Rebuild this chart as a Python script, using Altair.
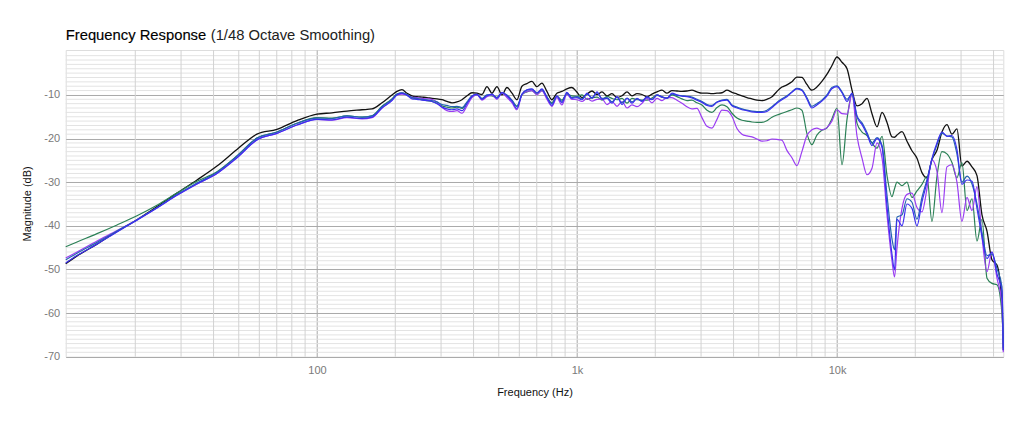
import altair as alt
import pandas as pd

# ---------------- data ----------------
freq_hz = [
    10.8, 11.94, 14.25, 17.01, 20.3, 24.23, 28.92, 34.54, 41.23, 49.21,
    58.73, 70.1, 83.66, 100, 114.2, 130.4, 149.0, 162.7, 177.8, 194.2,
    203.0, 212.2, 221.8, 231.8, 242.3, 253.3, 264.7, 276.7, 289.2, 302.3,
    316.0, 330.5, 345.4, 361.0, 377.4, 394.4, 412.3, 430.9, 450.4, 470.8,
    492.1, 514.3, 537.6, 562.3, 587.3, 613.9, 641.6, 670.7, 701.0, 732.7,
    765.8, 800.4, 836.6, 874.5, 914.0, 955.3, 1000,
    1045, 1093, 1142, 1194, 1248, 1304, 1363, 1425, 1490, 1557,
    1627, 1701, 1778, 1858, 1942, 2030, 2122, 2218, 2318, 2423,
    2533, 2647, 2767, 2892, 3023, 3162, 3305, 3454, 3610, 3774,
    3944, 4123, 4309, 4504, 4708, 4921, 5143, 5376, 5623, 5873,
    6139, 6416, 6707, 7010, 7327, 7658, 8004, 8366, 8745, 9140,
    9553, 10000,
    10450, 10930, 11420, 11940, 12480, 13040, 13630, 14250, 14900, 15570,
    16270, 16640, 17010, 17780, 18580, 19420, 20300, 21220, 22180, 23180,
    24230, 25330, 26470, 27670, 28920, 30230, 31620, 33050, 34540, 36100,
    37740, 39440, 41230, 43090, 43600,
]

black_db = [
    -48.7, -46.9, -44.2, -41.3, -38.6, -35.6, -32.5, -29.5, -26.3, -22.5,
    -19.0, -17.9, -15.9, -14.4, -14.1, -13.7, -13.4, -13.2, -11.8, -10.0,
    -9.2, -8.8, -9.6, -10.2, -10.4, -10.5, -10.6, -10.8, -10.9, -11.1,
    -11.5, -11.8, -11.6, -11.1, -10.2, -9.5, -9.6, -9.9, -8.1, -9.6,
    -8.1, -10.0, -8.3, -9.6, -11.1, -8.0, -7.4, -6.9, -8.1, -7.3,
    -9.2, -11.1, -9.6, -9.2, -8.6, -8.3, -9.4,
    -10.6, -9.8, -9.1, -9.9, -9.3, -10.2, -9.7, -10.6, -10.2, -9.3,
    -10.2, -9.7, -9.9, -10.4, -9.8, -9.3, -8.9, -9.6, -9.0, -9.1,
    -9.2, -9.1, -8.9, -9.3, -9.6, -9.6, -9.7, -9.6, -9.5, -8.9,
    -9.4, -9.8, -10.2, -10.6, -10.9, -11.2, -11.3, -11.0, -10.4, -9.2,
    -8.2, -7.7, -7.0, -5.9, -6.0, -7.6, -8.9, -8.2, -6.9, -5.3,
    -3.3, -1.3,
    -2.5, -4.0, -8.9, -12.5, -12.0, -10.8, -14.3, -17.3, -14.0, -16.3,
    -19.6, -19.7, -19.2, -18.4, -20.6, -22.8, -24.5, -27.8, -29.0, -24.8,
    -22.7, -18.5, -16.8, -19.0, -17.8, -26.3, -25.2, -26.5, -28.5, -37.5,
    -41.2, -47.8, -49.0, -58.0, -68.5,
]

green_db = [
    -44.8, -43.7, -41.8, -39.8, -37.7, -35.3, -32.5, -29.8, -27.6, -24.0,
    -19.9, -18.5, -16.5, -15.2, -15.3, -14.8, -15.1, -14.8, -12.6, -10.9,
    -9.8, -9.6, -10.0, -10.7, -10.9, -11.1, -11.3, -11.5, -11.9, -12.5,
    -12.8, -13.0, -12.8, -13.1, -11.8, -10.5, -10.0, -10.9, -10.1, -10.2,
    -10.6, -9.6, -10.3, -11.3, -12.6, -10.0, -9.3, -9.0, -9.8, -9.0,
    -10.5, -11.8, -10.3, -11.2, -9.8, -10.2, -10.3,
    -10.0, -11.0, -10.6, -10.5, -11.2, -10.3, -10.8, -11.1, -10.8, -11.9,
    -10.8, -11.1, -11.2, -11.2, -10.7, -10.0, -10.5, -10.8, -10.0, -10.4,
    -10.9, -11.3, -11.2, -11.8, -12.3, -13.5, -14.0, -12.9, -12.3, -12.7,
    -14.2, -15.3, -15.8, -16.0, -16.2, -16.3, -16.3, -15.9, -15.1, -14.6,
    -14.2, -13.8, -13.4, -13.0, -13.5, -18.8, -21.4, -19.2, -18.1, -17.6,
    -15.5, -13.0,
    -26.0, -15.5, -9.8, -16.5, -18.5, -19.3, -21.0, -22.2, -19.5, -28.5,
    -33.3, -31.5, -30.0, -30.8, -30.0, -33.5, -32.0, -30.5, -28.7, -39.0,
    -28.7, -23.0, -23.5, -25.5, -29.0, -25.5, -36.5, -33.8, -43.5, -38.5,
    -52.0, -53.2, -53.5, -60.0, -67.0,
]

purple_db = [
    -47.4, -46.0, -43.5, -41.1, -38.6, -35.9, -33.0, -30.4, -28.0, -24.4,
    -20.3, -18.8, -16.9, -15.6, -15.8, -15.2, -15.5, -15.2, -13.0, -11.2,
    -10.0, -9.8, -10.0, -10.5, -10.6, -10.8, -10.9, -11.0, -11.6, -12.8,
    -13.6, -13.8, -13.6, -14.2, -12.5, -10.6, -10.0, -11.2, -10.4, -10.0,
    -11.0, -9.6, -10.6, -11.8, -13.4, -10.0, -9.2, -9.0, -10.0, -9.0,
    -11.0, -12.6, -10.6, -12.3, -9.9, -11.0, -11.1,
    -11.5, -10.8, -11.4, -11.0, -10.9, -12.2, -11.5, -12.6, -11.5, -13.0,
    -12.3, -12.7, -11.9, -10.8, -11.8, -10.8, -11.3, -10.6, -10.6, -11.2,
    -11.9, -12.7, -13.2, -13.1, -15.2, -17.2, -17.6, -15.6, -13.5, -13.6,
    -14.9, -17.7, -19.0, -19.4, -19.6, -20.1, -20.6, -20.5, -20.1, -20.2,
    -20.4, -22.7, -24.4, -26.2, -23.0, -19.3, -18.0, -17.6, -18.0, -17.5,
    -16.0, -13.4,
    -14.3, -14.4, -9.8, -19.5, -24.5, -28.3, -26.8, -21.0, -24.5, -37.5,
    -48.0, -51.7, -45.0, -36.0, -32.8, -32.5, -35.8, -36.8, -31.5, -24.9,
    -27.5, -37.0, -26.5, -26.0, -30.0, -39.0, -33.5, -36.5, -31.0, -42.5,
    -50.5, -46.0, -52.0, -58.0, -69.0,
]

steel_db = [
    -47.8, -46.3, -43.8, -41.2, -38.6, -35.8, -32.8, -30.2, -27.7, -24.0,
    -19.9, -18.5, -16.5, -15.3, -15.4, -14.8, -15.1, -14.8, -12.7, -11.0,
    -9.8, -9.5, -9.9, -10.6, -10.8, -11.0, -11.1, -11.3, -11.6, -12.2,
    -12.4, -12.7, -12.6, -12.9, -11.6, -10.2, -9.9, -10.8, -10.0, -9.9,
    -10.6, -9.5, -10.0, -11.2, -12.6, -9.9, -8.9, -8.7, -9.5, -8.8,
    -10.4, -12.0, -10.3, -11.5, -9.6, -10.6, -10.4,
    -10.9, -9.8, -10.6, -9.5, -10.8, -10.6, -11.6, -10.5, -11.8, -10.7,
    -11.6, -10.9, -11.3, -10.5, -11.0, -10.1, -10.4, -10.7, -9.8, -10.1,
    -10.2, -10.3, -10.5, -11.0, -11.5, -12.2, -12.4, -11.6, -11.2, -11.0,
    -12.3, -12.8, -13.2, -13.5, -13.7, -13.8, -13.8, -13.5, -12.7, -11.7,
    -10.9, -10.2, -9.3, -8.5, -8.8, -10.6, -12.6, -12.0, -11.2, -10.0,
    -8.3, -7.9,
    -9.3, -11.0, -9.8, -14.8, -16.4, -18.6, -21.0, -19.8, -21.6, -33.0,
    -43.0, -45.5, -38.0, -37.5, -33.8, -34.6, -38.5, -33.5, -29.4, -24.8,
    -21.4, -18.8, -19.4, -19.6, -23.5, -30.0, -28.6, -30.4, -35.0, -41.5,
    -46.8, -46.5, -49.8, -54.0, -68.0,
]

blue_db = [
    -48.5, -46.8, -44.2, -41.4, -38.7, -35.9, -33.0, -30.4, -28.0, -24.4,
    -20.3, -18.8, -16.9, -15.6, -15.7, -15.1, -15.4, -15.1, -13.0, -11.3,
    -10.0, -9.6, -10.1, -10.9, -11.0, -11.2, -11.3, -11.5, -12.0, -12.8,
    -13.2, -13.4, -13.2, -13.6, -12.0, -10.3, -9.8, -11.0, -10.2, -9.8,
    -10.8, -9.4, -10.2, -11.5, -13.1, -9.8, -8.8, -8.6, -9.6, -8.6,
    -10.6, -12.4, -10.2, -11.8, -9.4, -10.8, -10.6,
    -11.1, -9.6, -10.8, -9.3, -11.0, -10.8, -11.9, -10.4, -12.2, -10.8,
    -11.9, -10.8, -11.5, -10.4, -11.1, -10.0, -10.5, -10.8, -9.6, -10.0,
    -10.3, -10.4, -10.7, -11.2, -11.7, -12.4, -12.6, -11.7, -11.3, -11.2,
    -12.5, -13.0, -13.4, -13.6, -13.9, -14.0, -14.0, -13.8, -12.9, -11.9,
    -11.1, -10.4, -9.4, -8.6, -9.0, -10.9, -13.0, -12.3, -11.4, -10.3,
    -8.6, -8.1,
    -9.5, -11.5, -9.6, -15.1, -16.8, -19.0, -21.6, -20.0, -22.0, -35.5,
    -46.5, -50.1, -38.5, -40.0, -35.0, -36.0, -40.0, -34.5, -30.0, -24.6,
    -21.0, -18.5, -19.5, -19.3, -22.5, -30.5, -29.5, -29.8, -36.0, -42.5,
    -47.5, -46.0, -51.0, -55.0, -68.5,
]

series_names = ["Black", "Green", "Purple", "Steel", "Blue"]
series_colors = ["#111111", "#2b8056", "#9a3df2", "#2463b0", "#3b2ff0"]
series_values = [black_db, green_db, purple_db, steel_db, blue_db]

x_tick_values = [100, 1000, 10000]
x_tick_labels = ["100", "1k", "10k"]
x_minor_ticks = [20, 30, 40, 50, 60, 70, 80, 90,
                 200, 300, 400, 500, 600, 700, 800, 900,
                 2000, 3000, 4000, 5000, 6000, 7000, 8000, 9000,
                 20000, 30000, 40000]
y_tick_values = [-70, -60, -50, -40, -30, -20, -10]
y_minor_ticks = [v for v in range(-69, 0) if v % 10 != 0]

title_main = "Frequency Response"
title_note = "(1/48 Octave Smoothing)"

FONT = "Liberation Sans"

# ---------------- encodings ----------------
label_expr = " : ".join(
    f"datum.value == {v} ? '{t}'" for v, t in zip(x_tick_values[:-1], x_tick_labels[:-1])
) + f" : '{x_tick_labels[-1]}'"

x_scale = alt.Scale(type="log", domain=[10.8, 43600], nice=False)
y_scale = alt.Scale(domain=[-70, 0.3], nice=False, zero=False)

x_axis = alt.Axis(values=x_tick_values, labelExpr=label_expr, title="Frequency (Hz)",
                  grid=True, gridColor="#a9a9a9", gridWidth=1, ticks=False, domain=False,
                  labelColor="#7a7a7a", labelFontSize=11, labelFont=FONT, labelPadding=8,
                  titleFont=FONT, titleFontSize=11, titleFontWeight="normal",
                  titleColor="#111111", titlePadding=11)
y_axis = alt.Axis(values=y_tick_values, labelExpr="datum.value + ''", title="Magnitude (dB)",
                  grid=True, gridColor="#a9a9a9", gridWidth=1, ticks=False, domain=False,
                  labelColor="#7a7a7a", labelFontSize=11, labelFont=FONT, labelPadding=6,
                  titleFont=FONT, titleFontSize=11, titleFontWeight="normal",
                  titleColor="#111111", titlePadding=11)


def X():
    return alt.X("freq:Q", scale=x_scale, axis=x_axis)


def Y():
    return alt.Y("db:Q", scale=y_scale, axis=y_axis)


ygrid = alt.Chart(pd.DataFrame({"db": y_minor_ticks})).mark_rule(
    color="#e3e3e3", strokeWidth=1).encode(y=Y())
xgrid = alt.Chart(pd.DataFrame({"freq": x_minor_ticks})).mark_rule(
    color="#d2d2d2", strokeWidth=1).encode(x=X())

layers = [ygrid, xgrid]
for name, color, vals in zip(series_names, series_colors, series_values):
    df = pd.DataFrame({"freq": freq_hz, "db": vals})
    layers.append(
        alt.Chart(df).mark_line(color=color, interpolate="monotone",
                                strokeWidth=1.3 if name == "Black" else 1.2)
        .encode(x=X(), y=Y())
    )

t1 = alt.Chart(pd.DataFrame({"t": [title_main]})).mark_text(
    align="left", baseline="alphabetic", font=FONT, fontSize=14.8, color="#000000",
    stroke="#000000", strokeWidth=0.15
).encode(x=alt.value(0), y=alt.value(-10), text="t:N")
t2 = alt.Chart(pd.DataFrame({"t": [title_note]})).mark_text(
    align="left", baseline="alphabetic", font=FONT, fontSize=14.8, color="#222222"
).encode(x=alt.value(145), y=alt.value(-10), text="t:N")
layers += [t1, t2]

chart = alt.layer(*layers).properties(
    width=937.6, height=306.7,
    padding={"left": 57.7, "top": 42, "right": 12, "bottom": 60},
    autosize=alt.AutoSizeParams(type="none"),
).configure_view(stroke="#a9a9a9", strokeWidth=1).configure(background="white")

chart.save("out.html", embed_options={"renderer": "svg", "actions": False})
